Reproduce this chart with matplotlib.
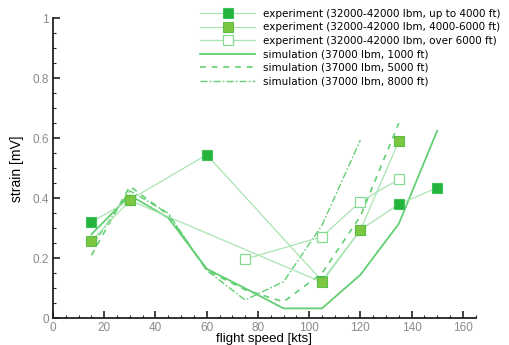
import matplotlib
matplotlib.use("Agg")
import matplotlib.pyplot as plt
from matplotlib.ticker import MultipleLocator

plt.rcParams['font.family'] = ['Liberation Sans', 'DejaVu Sans']

# Measured strain vs. flight speed, three altitude bands
speed_low = [15, 30, 60, 105, 120, 135, 150]
strain_low = [0.32, 0.395, 0.545, 0.125, 0.295, 0.38, 0.435]

speed_mid = [15, 30, 105, 120, 135]
strain_mid = [0.258, 0.393, 0.12, 0.294, 0.59]

speed_high = [75, 105, 120, 135]
strain_high = [0.197, 0.272, 0.389, 0.463]

# Simulated strain, 37000 lbm
sim_speed_1000 = [15, 30, 45, 60, 75, 90, 105, 120, 135, 150]
sim_strain_1000 = [0.28, 0.41, 0.335, 0.165, 0.10, 0.033, 0.033, 0.145, 0.315, 0.625]

sim_speed_5000 = [15, 30, 45, 60, 75, 90, 105, 120, 135]
sim_strain_5000 = [0.21, 0.44, 0.345, 0.16, 0.095, 0.055, 0.15, 0.34, 0.65]

sim_speed_8000 = [15, 30, 45, 60, 75, 90, 105, 120]
sim_strain_8000 = [0.24, 0.425, 0.35, 0.16, 0.061, 0.122, 0.31, 0.594]

labels = [
    "experiment (32000-42000 lbm, up to 4000 ft)",
    "experiment (32000-42000 lbm, 4000-6000 ft)",
    "experiment (32000-42000 lbm, over 6000 ft)",
    "simulation (37000 lbm, 1000 ft)",
    "simulation (37000 lbm, 5000 ft)",
    "simulation (37000 lbm, 8000 ft)",
]

exp_line = "#a9e4b1"
sim_line = "#62cf72"

fig = plt.figure(figsize=(5.10, 3.45), dpi=100)
ax = fig.add_axes([0.104, 0.0774, 0.8286, 0.8696])

h1, = ax.plot(speed_low, strain_low, color=exp_line, lw=0.9, marker='s', ms=7,
              mfc="#24b43c", mec="#3fc15a", mew=0.8, zorder=4)
h2, = ax.plot(speed_mid, strain_mid, color=exp_line, lw=0.9, marker='s', ms=7,
              mfc="#7cc742", mec="#5dbd45", mew=0.8, zorder=5)
h3, = ax.plot(speed_high, strain_high, color=exp_line, lw=0.9, marker='s', ms=7,
              mfc="white", mec="#85d992", mew=0.9, zorder=5)
h4, = ax.plot(sim_speed_1000, sim_strain_1000, color=sim_line, lw=1.3, zorder=3)
h5, = ax.plot(sim_speed_5000, sim_strain_5000, color=sim_line, lw=1.2,
              dashes=(3.5, 3.5), zorder=3)
h6, = ax.plot(sim_speed_8000, sim_strain_8000, color=sim_line, lw=1.0,
              dashes=(5, 1.6, 1.2, 1.6), zorder=3)

ax.set_xlim(0, 165)
ax.set_ylim(0, 1)
ax.xaxis.set_minor_locator(MultipleLocator(5))
ax.yaxis.set_minor_locator(MultipleLocator(0.05))
ax.set_xticks(range(0, 161, 20))
ax.set_xticklabels([str(v) for v in range(0, 161, 20)])
ax.set_yticks([0, 0.2, 0.4, 0.6, 0.8, 1.0])
ax.set_yticklabels(["0", "0.2", "0.4", "0.6", "0.8", "1"])

for side in ("top", "right"):
    ax.spines[side].set_visible(False)
for side in ("left", "bottom"):
    ax.spines[side].set_linewidth(1.3)
    ax.spines[side].set_color("#222222")

ax.tick_params(which='major', direction='in', length=5, width=1.2,
               colors="#222222", labelcolor="#8a8a8a", labelsize=8.5, pad=3)
ax.tick_params(which='minor', direction='in', length=2.5, width=0.8,
               colors="#222222")

ax.set_xlabel("flight speed [kts]", fontsize=9.5, labelpad=-1)
ax.set_ylabel("strain [mV]", fontsize=10, labelpad=6)

fig.legend([h1, h2, h3, h4, h5, h6], labels, loc='upper left',
           bbox_to_anchor=(0.392, 0.975), frameon=False,
           prop={'family': 'DejaVu Sans', 'size': 7.5},
           handlelength=5.3, handletextpad=0.75, labelspacing=0.34,
           borderpad=0, borderaxespad=0)

fig.savefig("out.png", dpi=100)
